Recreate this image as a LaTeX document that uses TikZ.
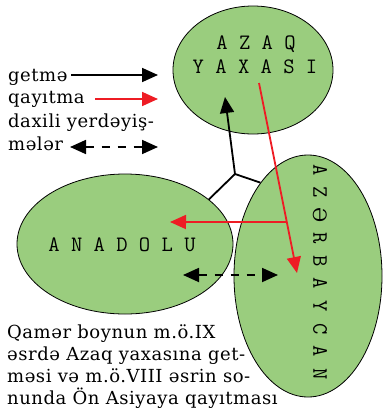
\documentclass[tikz,border=0pt]{standalone}
\usepackage{fontspec}
\setmainfont{DejaVu Serif}[LetterSpace=3]
\newfontfamily\placefont{Latin Modern Mono}
\newfontfamily\schwafont{DejaVu Serif}[Scale=0.84]
\usetikzlibrary{arrows.meta,shapes.geometric}
\definecolor{leaf}{HTML}{9ACD7E}
\definecolor{backred}{HTML}{EE1C24}
\tikzset{
  region/.style={ellipse,draw=black,line width=0.8pt,fill=leaf,inner sep=0pt},
  place/.style={font=\placefont\fontsize{22}{24}\selectfont,inner sep=0pt},
  txt/.style={font=\fontsize{18}{21.7}\selectfont,inner sep=0pt},
  goarrow/.style={-{Triangle[width=14pt,length=16pt]},line width=1.8pt},
  backarrow/.style={goarrow,draw=backred,fill=backred},
  movearrow/.style={{Triangle[width=14pt,length=16pt]}-{Triangle[width=14pt,length=16pt]},line width=1.8pt,dash pattern=on 8pt off 8pt}
}

\begin{document}
\begin{tikzpicture}[x=1pt,y=-1pt]
    \useasboundingbox (0,0) rectangle (383,410);
    % regions
    \node[region,minimum width=160pt,minimum height=128pt] (azaq) at (253,70) {};
    \node[region,minimum width=216pt,minimum height=140pt] (anadolu) at (125,244) {};
    \node[region,minimum width=148pt,minimum height=242pt] (azer) at (308,276) {};
    \node[place,anchor=base] (azaqname) at (256,49) {A Z A Q};
    \node[place,anchor=base] (yaxaname) at (255,73) {Y A X A S I};
    \node[place,anchor=base] (anadoluname) at (122,251) {A N A D O L U};
    \node[place,rotate=-90] (azername) at (320,272) {A Z \makebox[0.525em]{\schwafont Ə} R B A Y C A N};
    % getme
    \coordinate (fork) at (235,174);
    \coordinate (gotip) at (225,97);
    \draw[line width=1.8pt,line join=round] (anadolu.28) -- (fork) -- (azer.117);
    \draw[goarrow] (fork) -- (gotip);
    % qayitma
    \coordinate (backstart) at (259,83);
    \coordinate (backtip) at (297,273);
    \coordinate (westtip) at (170,222);
    \draw[backarrow] (backstart) -- (backtip);
    \path (backstart) -- (backtip) coordinate[pos=0.732] (turn);
    \draw[backarrow] (turn) -- (westtip);
    % daxili yerdeyismeler
    \coordinate (movewest) at (183,275);
    \coordinate (moveeast) at (278,275);
    \draw[movearrow] (movewest) -- (moveeast);
    % legend
    \node[txt,anchor=base west] (leggo) at (8,81) {getmə};
    \node[txt,anchor=base west] (legback) at (8,103) {qayıtma};
    \node[txt,anchor=base west] (legmove) at (8,127) {daxili yerdəyiş-};
    \node[txt,anchor=base west] (legmovetail) at (8,150) {mələr};
    \coordinate (leggo1) at (71,75);   \coordinate (leggo2) at (158,75);
    \coordinate (legback1) at (95,99); \coordinate (legback2) at (158,99);
    \coordinate (legmove1) at (70,147); \coordinate (legmove2) at (158,147);
    \draw[goarrow] (leggo1) -- (leggo2);
    \draw[backarrow] (legback1) -- (legback2);
    \draw[movearrow] (legmove1) -- (legmove2);
    % caption
    \node[txt,anchor=north west,align=left] (caption) at (7,325) {Qamər boynun m.ö.IX\\əsrdə Azaq yaxasına get-\\məsi və m.ö.VIII əsrin so-\\nunda Ön Asiyaya qayıtması};
\end{tikzpicture}
\end{document}
